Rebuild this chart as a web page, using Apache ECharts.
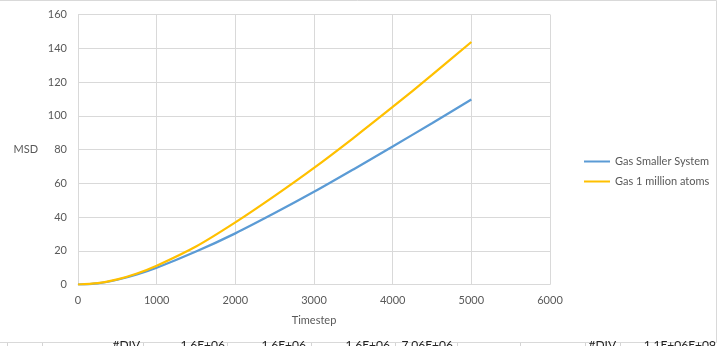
<!DOCTYPE html>
<html>
<head>
<meta charset="utf-8">
<script src="https://cdn.jsdelivr.net/npm/echarts@6/dist/echarts.min.js"></script>
<style>html,body{margin:0;padding:0;background:#fff;}#c{width:718px;height:346px;}</style>
</head>
<body>
<div id="c"></div>
<script>
var timesteps = [0, 250, 500, 750, 1000, 1500, 2000, 2500, 3000, 3500, 4000, 4500, 5000];
var smallerSystem = [0, 0.7, 2.8, 5.9, 9.9, 19.5, 30.3, 42.3, 54.9, 68.2, 81.8, 95.6, 109.6];
var millionAtoms = [0, 0.75, 3.0, 6.5, 11.1, 22.5, 36.8, 52.5, 69.1, 86.8, 105.2, 124.2, 143.7];
var seriesNames = ['Gas Smaller System', 'Gas 1 million atoms'];
var xAxisName = 'Timestep';
var yAxisName = 'MSD';
var cellTexts = [
  {t: '#DIV', r: 140}, {t: '1.6E+06', r: 225}, {t: '1.6E+06', r: 306},
  {t: '1.6E+06', r: 390}, {t: '7.06E+06', r: 453}, {t: '#DIV', r: 616}, {t: '1.1E+06E+09', r: 716}
];
var cellLines = [7, 42, 143, 227, 311, 395, 457, 520, 585, 620];

function pairs(xs, ys) { return xs.map(function (x, i) { return [x, ys[i]]; }); }

var font = 'Lato, "Liberation Sans", sans-serif';
var graphics = [
  {type: 'rect', shape: {x: -2, y: 0.5, width: 718.5, height: 342}, style: {fill: 'none', stroke: '#d9d9d9', lineWidth: 1}, silent: true}
];
cellLines.forEach(function (x) {
  graphics.push({type: 'line', shape: {x1: x + 0.5, y1: 343, x2: x + 0.5, y2: 346}, style: {stroke: '#d4d4d4', lineWidth: 1}, silent: true});
});
cellTexts.forEach(function (c) {
  graphics.push({type: 'text', x: c.r, y: 339, style: {text: c.t, fill: '#222', font: '12px ' + font, textAlign: 'right', textVerticalAlign: 'top'}, silent: true});
});

var chart = echarts.init(document.getElementById('c'));
chart.setOption({
  animation: false,
  backgroundColor: '#fff',
  grid: {left: 78, right: 168, top: 14.5, bottom: 61.5},
  legend: {
    orient: 'vertical', left: 579, top: 151, itemWidth: 26, itemHeight: 2, itemGap: 9,
    icon: 'rect',
    textStyle: {color: '#595959', fontSize: 11, fontFamily: font},
    data: seriesNames
  },
  xAxis: {
    type: 'value', min: 0, max: 6000, interval: 1000,
    name: xAxisName, nameLocation: 'middle', nameGap: 30,
    nameTextStyle: {color: '#595959', fontSize: 11, fontFamily: font},
    axisLine: {show: true, lineStyle: {color: '#d9d9d9'}},
    axisTick: {show: false},
    axisLabel: {color: '#595959', fontSize: 11, fontFamily: font, margin: 10, formatter: function (v) { return String(v); }},
    splitLine: {show: true, lineStyle: {color: '#d9d9d9'}}
  },
  yAxis: {
    type: 'value', min: 0, max: 160, interval: 20,
    name: yAxisName, nameLocation: 'middle', nameGap: 40, nameRotate: 0,
    nameTextStyle: {color: '#595959', fontSize: 11, fontFamily: font},
    axisLine: {show: true, lineStyle: {color: '#d9d9d9'}},
    axisTick: {show: false},
    axisLabel: {color: '#595959', fontSize: 11, fontFamily: font, margin: 11},
    splitLine: {show: true, lineStyle: {color: '#d9d9d9'}}
  },
  series: [
    {name: seriesNames[0], type: 'line', data: pairs(timesteps, smallerSystem), smooth: 0.3, showSymbol: false, symbol: 'none',
     lineStyle: {color: '#5B9BD5', width: 2.25}, itemStyle: {color: '#5B9BD5'}},
    {name: seriesNames[1], type: 'line', data: pairs(timesteps, millionAtoms), smooth: 0.3, showSymbol: false, symbol: 'none',
     lineStyle: {color: '#FFC000', width: 2.25}, itemStyle: {color: '#FFC000'}}
  ],
  graphic: graphics
});
</script>
</body>
</html>
